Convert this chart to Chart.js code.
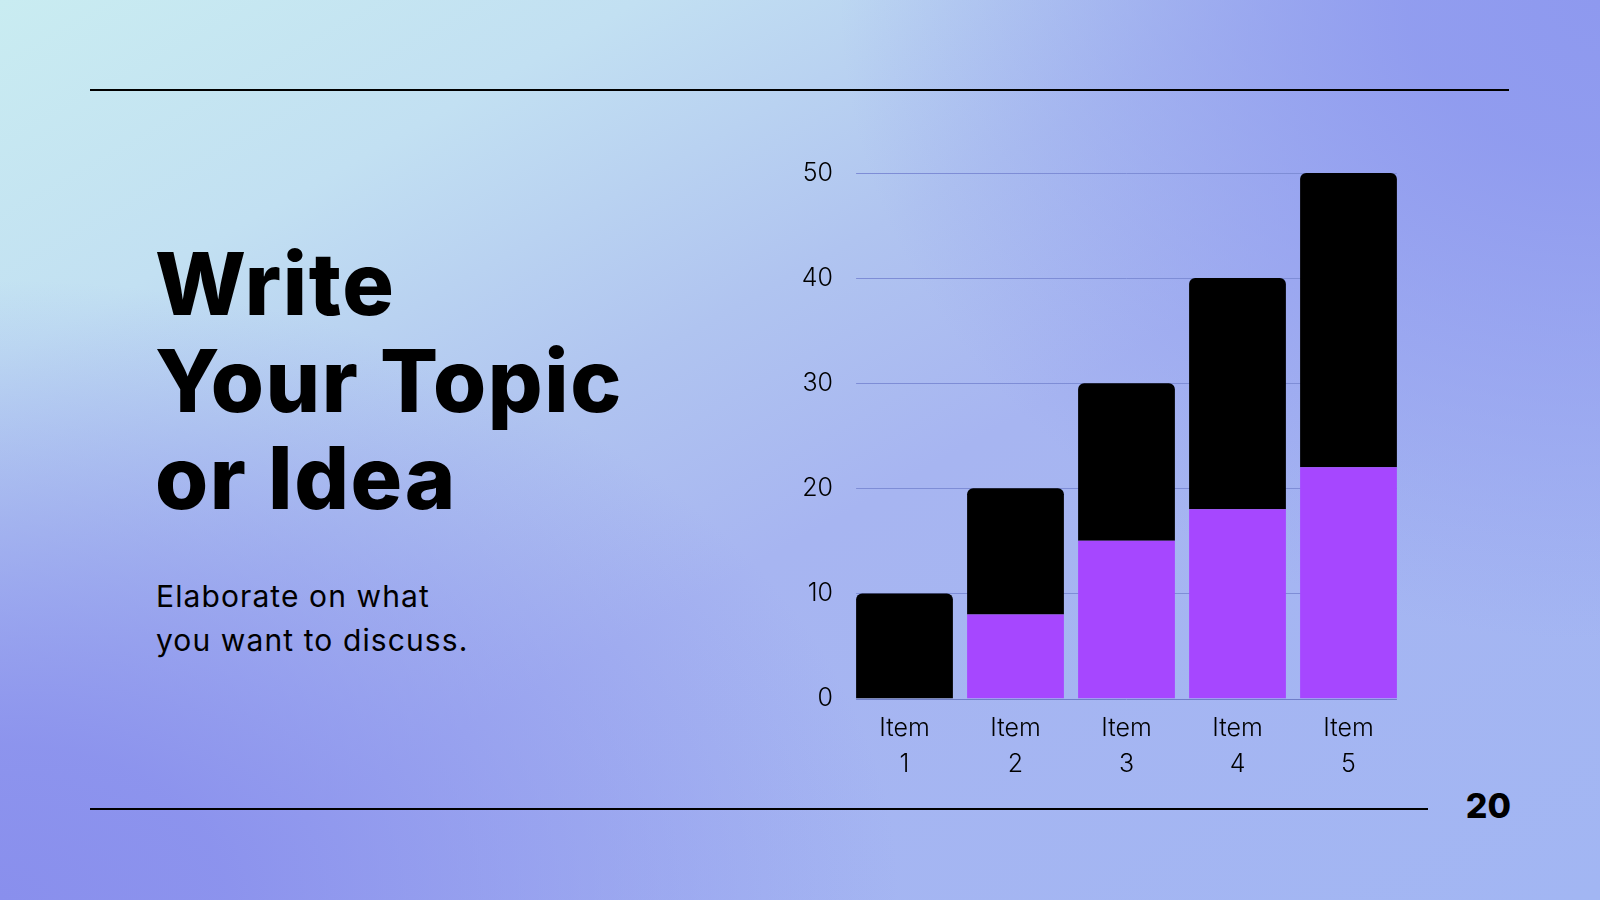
<!DOCTYPE html>
<html>
<head>
<meta charset="utf-8">
<script src="https://cdn.jsdelivr.net/npm/chart.js@4"></script>
<style>
  html, body { margin: 0; padding: 0; }
  body {
    width: 1600px; height: 900px; overflow: hidden; position: relative;
    font-family: Inter, "Noto Sans", sans-serif; color: #000;
    background:
      radial-gradient(ellipse 760px 640px at 100% 0%, rgba(142,153,239,1) 0%, rgba(142,153,239,0.9) 25%, rgba(142,153,239,0) 100%),
      radial-gradient(ellipse 900px 620px at 0% 100%, rgba(137,143,237,1) 0%, rgba(137,143,237,0.9) 25%, rgba(137,143,237,0) 100%),
      linear-gradient(to bottom right, #c9ecf1 0%, #c2e0f2 20%, #b0c4f0 40%, #a7b5f1 55%, #a2b6f3 100%);
  }
  .rule { position: absolute; left: 90px; height: 2px; background: #000; }
  #title {
    position: absolute; left: 155px; top: 236px; margin: 0;
    font-size: 86px; line-height: 97px; font-weight: 800; letter-spacing: 1.6px;
  }
  #sub {
    position: absolute; left: 156px; top: 574px; margin: 0;
    font-size: 30px; line-height: 44px; font-weight: 400; letter-spacing: 1.1px;
  }
  #page {
    position: absolute; right: 89px; top: 789px;
    font-size: 34px; line-height: 34px; font-weight: 800;
  }
  #wrap { position: absolute; left: 760px; top: 138.5px; width: 650px; height: 649.5px; }
</style>
</head>
<body>
<div class="rule" style="top:89px; width:1419px;"></div>
<div class="rule" style="top:808px; width:1338px;"></div>
<h1 id="title">Write<br>Your Topic<br>or Idea</h1>
<p id="sub">Elaborate on what<br>you want to discuss.</p>
<div id="page">20</div>
<div id="wrap"><canvas id="chart"></canvas></div>
<script>
// データ
var categories = [['Item', '1'], ['Item', '2'], ['Item', '3'], ['Item', '4'], ['Item', '5']];
var purpleValues = [0, 8, 15, 18, 22];
var blackValues = [10, 12, 15, 22, 28];
var yTicks = [0, 10, 20, 30, 40, 50];

// グリッド線（棒の左端から右端まで）
var gridLines = {
  id: 'gridLines',
  beforeDatasetsDraw: function(chart) {
    drawLines(chart, false);
  },
  afterDatasetsDraw: function(chart) {
    drawLines(chart, true);
  }
};

function drawLines(chart, zeroOnly) {
  var ctx = chart.ctx;
  var y = chart.scales.y;
  var bars = chart.getDatasetMeta(0).data;
  var first = bars[0], last = bars[bars.length - 1];
  var left = first.x - first.width / 2;
  var right = last.x + last.width / 2;
  ctx.save();
  ctx.lineWidth = 1;
  yTicks.forEach(function(v) {
    if (zeroOnly !== (v === 0)) return;
    var py = Math.round(y.getPixelForValue(v)) + 0.5;
    ctx.strokeStyle = v === 0 ? '#6f7ec8' : '#7e8dd6';
    ctx.beginPath();
    ctx.moveTo(left, py);
    ctx.lineTo(right, py);
    ctx.stroke();
  });
  ctx.restore();
}

var tickFont = { family: 'Inter', size: 25, weight: '300', lineHeight: 1.44 };

var ctx = document.getElementById('chart').getContext('2d');
ctx.letterSpacing = '0.8px';
var myChart = new Chart(ctx, {
  type: 'bar',
  data: {
    labels: categories,
    datasets: [
      {
        data: purpleValues,
        backgroundColor: '#a647ff',
        borderRadius: 0,
        barPercentage: 0.872,
        categoryPercentage: 1
      },
      {
        data: blackValues,
        backgroundColor: '#000000',
        borderRadius: 6,
        barPercentage: 0.872,
        categoryPercentage: 1
      }
    ]
  },
  options: {
    responsive: true,
    maintainAspectRatio: false,
    animation: false,
    layout: { padding: { top: 22.5, right: 6, bottom: 0, left: 0 } },
    plugins: { legend: { display: false }, tooltip: { enabled: false } },
    scales: {
      x: {
        stacked: true,
        grid: { display: false, drawTicks: false },
        border: { display: false },
        ticks: { color: '#000', font: tickFont, padding: 12, maxRotation: 0 },
        afterFit: function(scale) { scale.height = 90; }
      },
      y: {
        stacked: true,
        min: 0,
        max: 50,
        grid: { display: false, drawTicks: false },
        border: { display: false },
        ticks: { color: '#000', font: tickFont, padding: 16, stepSize: 10 },
        afterFit: function(scale) { scale.width = 89; }
      }
    }
  },
  plugins: [gridLines]
});
</script>
</body>
</html>
